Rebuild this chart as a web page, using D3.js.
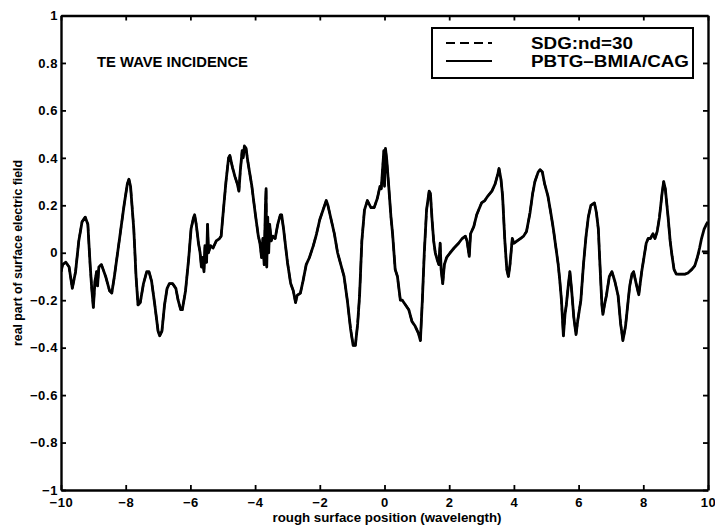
<!DOCTYPE html>
<html>
<head>
<meta charset="utf-8">
<script src="https://cdn.jsdelivr.net/npm/d3@7"></script>
<style>
  html, body { margin: 0; padding: 0; background: #fff; }
  svg { display: block; }
  text { font-family: "Liberation Sans", Arial, Helvetica, sans-serif; fill: #000; }
</style>
</head>
<body>
<svg id="chart" width="715" height="527"></svg>
<script>
// Surface position along the rough surface (wavelengths)
const positions = [
  -10.0, -9.95, -9.85, -9.75, -9.65, -9.55, -9.45, -9.35, -9.25, -9.17,
  -9.1, -9.05, -9.0, -8.95, -8.9, -8.87, -8.83, -8.75, -8.62, -8.5,
  -8.43, -8.35, -8.2, -8.05, -7.95, -7.9, -7.85, -7.75, -7.68, -7.62,
  -7.55, -7.45, -7.35, -7.28, -7.2, -7.1, -7.0, -6.95, -6.88, -6.8,
  -6.72, -6.65, -6.55, -6.45, -6.38, -6.3, -6.25, -6.15, -6.05, -5.98,
  -5.9, -5.87, -5.82, -5.75, -5.7, -5.66, -5.62, -5.58, -5.55, -5.5,
  -5.47, -5.44, -5.38, -5.3, -5.2, -5.1, -5.05, -4.98, -4.9, -4.82,
  -4.78, -4.7, -4.62, -4.55, -4.5, -4.46, -4.4, -4.37, -4.33, -4.28,
  -4.22, -4.1, -4.0, -3.9, -3.85, -3.8, -3.76, -3.72, -3.68, -3.66,
  -3.64, -3.61, -3.58, -3.55, -3.5, -3.45, -3.38, -3.3, -3.22, -3.18,
  -3.12, -3.0, -2.9, -2.82, -2.75, -2.7, -2.6, -2.52, -2.42, -2.32,
  -2.2, -2.1, -2.0, -1.9, -1.8, -1.75, -1.65, -1.55, -1.45, -1.35,
  -1.25, -1.15, -1.05, -0.97, -0.9, -0.83, -0.77, -0.7, -0.62, -0.53,
  -0.42, -0.32, -0.22, -0.14, -0.1, -0.05, -0.02, 0.0, 0.03, 0.07,
  0.12, 0.2, 0.25, 0.33, 0.4, 0.49, 0.55, 0.65, 0.75, 0.85,
  0.95, 1.05, 1.11, 1.17, 1.23, 1.3, 1.38, 1.42, 1.47, 1.52,
  1.57, 1.63, 1.68, 1.72, 1.75, 1.8, 1.85, 1.92, 2.03, 2.15,
  2.29, 2.4, 2.5, 2.55, 2.62, 2.66, 2.76, 2.85, 2.91, 3.0,
  3.1, 3.2, 3.32, 3.42, 3.5, 3.54, 3.6, 3.65, 3.72, 3.78,
  3.83, 3.88, 3.95, 4.0, 4.1, 4.2, 4.3, 4.39, 4.5, 4.58,
  4.65, 4.75, 4.81, 4.88, 4.95, 5.05, 5.15, 5.22, 5.3, 5.37,
  5.42, 5.47, 5.53, 5.58, 5.62, 5.68, 5.73, 5.78, 5.85, 5.92,
  5.98, 6.07, 6.15, 6.23, 6.3, 6.38, 6.49, 6.55, 6.61, 6.66,
  6.72, 6.75, 6.8, 6.86, 6.95, 7.03, 7.12, 7.22, 7.3, 7.37,
  7.45, 7.58, 7.65, 7.7, 7.78, 7.86, 7.95, 8.09, 8.15, 8.22,
  8.3, 8.36, 8.43, 8.5, 8.58, 8.63, 8.68, 8.76, 8.83, 8.89,
  8.95, 9.02, 9.15, 9.3, 9.38, 9.5, 9.59, 9.67, 9.74, 9.8,
  9.88, 9.95, 10.0
];

// Real part of the surface electric field, PBTG-BMIA/CAG solution
const pbtgField = [
  -0.08, -0.05, -0.04, -0.06, -0.15, -0.08, 0.05, 0.13, 0.15, 0.12,
  -0.05, -0.15, -0.23, -0.12, -0.08, -0.14, -0.06, -0.05, -0.1, -0.16,
  -0.17, -0.1, 0.05, 0.2, 0.29, 0.31, 0.28, 0.1, -0.1, -0.22,
  -0.21, -0.13, -0.08, -0.08, -0.12, -0.22, -0.33, -0.35, -0.33, -0.22,
  -0.15, -0.13, -0.13, -0.15, -0.2, -0.24, -0.24, -0.16, -0.02, 0.1,
  0.15, 0.16, 0.12, 0.04, 0.0, -0.06, -0.02, -0.08, 0.03, -0.04,
  0.12, 0.0, 0.03, 0.02, 0.05, 0.06, 0.07, 0.18, 0.3, 0.4,
  0.41, 0.36, 0.32, 0.29, 0.26, 0.34, 0.43, 0.4, 0.45, 0.44,
  0.38, 0.28, 0.17, 0.07, 0.04, -0.02, 0.06, -0.05, 0.2, 0.27,
  -0.06, 0.15, 0.0, 0.12, 0.05, 0.07, 0.06, 0.12, 0.16, 0.16,
  0.1, -0.04, -0.13, -0.16, -0.21, -0.18, -0.17, -0.12, -0.05, -0.02,
  0.03, 0.08, 0.14, 0.18, 0.22, 0.2, 0.14, 0.08, 0.0, -0.05,
  -0.1, -0.2, -0.32, -0.39, -0.39, -0.3, -0.18, 0.05, 0.18, 0.22,
  0.19, 0.19, 0.23, 0.28, 0.27, 0.37, 0.43, 0.28, 0.44, 0.39,
  0.3, 0.15, 0.08, -0.07, -0.1, -0.2, -0.2, -0.22, -0.24, -0.29,
  -0.31, -0.34, -0.37, -0.2, 0.0, 0.18, 0.26, 0.25, 0.14, 0.05,
  0.0, -0.03, -0.05, 0.04, -0.07, -0.13, -0.05, -0.02, 0.0, 0.02,
  0.04, 0.06, 0.07, 0.05, -0.015, 0.08, 0.11, 0.16, 0.18, 0.21,
  0.22, 0.24, 0.26, 0.29, 0.33, 0.355, 0.31, 0.24, 0.05, -0.07,
  -0.1, -0.05, 0.06, 0.04, 0.05, 0.06, 0.07, 0.09, 0.17, 0.25,
  0.3, 0.34, 0.35, 0.34, 0.29, 0.24, 0.16, 0.1, 0.02, -0.05,
  -0.12, -0.2, -0.35, -0.26, -0.22, -0.14, -0.08, -0.15, -0.27, -0.345,
  -0.28, -0.2, -0.05, 0.07, 0.15, 0.2, 0.21, 0.17, 0.1, -0.05,
  -0.22, -0.26, -0.22, -0.18, -0.1, -0.08, -0.12, -0.18, -0.3, -0.37,
  -0.31, -0.14, -0.09, -0.08, -0.13, -0.177, -0.08, 0.04, 0.06, 0.06,
  0.08, 0.06, 0.09, 0.15, 0.25, 0.3, 0.27, 0.16, 0.05, -0.015,
  -0.07, -0.09, -0.09, -0.09, -0.085, -0.07, -0.055, -0.02, 0.02, 0.06,
  0.1, 0.12, 0.13
];

// SDG (nd=30) follows the PBTG curve and only separates near the right edge
const sdgSplitAt = 9.74;
const sdgTailPositions = [9.74, 9.85, 10.0];
const sdgTailField = [0.01, 0.005, 0.005];

const xTickValues = [-10, -8, -6, -4, -2, 0, 2, 4, 6, 8, 10];
const xTickLabels = ["\u221210", "\u22128", "\u22126", "\u22124", "\u22122", "0", "2", "4", "6", "8", "10"];
const yTickValues = [-1, -0.8, -0.6, -0.4, -0.2, 0, 0.2, 0.4, 0.6, 0.8, 1];
const yTickLabels = ["\u22121", "\u22120.8", "\u22120.6", "\u22120.4", "\u22120.2", "0", "0.2", "0.4", "0.6", "0.8", "1"];

const seriesNames = ["SDG:nd=30", "PBTG\u2013BMIA/CAG"];
const annotation = "TE WAVE INCIDENCE";
const xTitle = "rough surface position (wavelength)";
const yTitle = "real part of surface electric field";

// ---- layout ----
const plot = { left: 61, right: 708, top: 15.5, bottom: 490 };
const svg = d3.select("#chart");

const x = d3.scaleLinear().domain([-10, 10]).range([plot.left, plot.right]);
const y = d3.scaleLinear().domain([-1, 1]).range([plot.bottom, plot.top]);

const pbtg = positions.map((p, i) => ({ x: p, y: pbtgField[i] }));
const sdg = pbtg.filter(d => d.x < sdgSplitAt)
  .concat(sdgTailPositions.map((p, i) => ({ x: p, y: sdgTailField[i] })));

svg.append("defs").append("clipPath").attr("id", "plotClip")
  .append("rect")
  .attr("x", plot.left).attr("y", plot.top)
  .attr("width", plot.right - plot.left).attr("height", plot.bottom - plot.top);

const line = d3.line().x(d => x(d.x)).y(d => y(d.y));

const curves = svg.append("g").attr("clip-path", "url(#plotClip)");
curves.append("path").datum(pbtg)
  .attr("d", line)
  .attr("fill", "none").attr("stroke", "#000")
  .attr("stroke-width", 2.8).attr("stroke-linejoin", "round");
curves.append("path").datum(sdg)
  .attr("d", line)
  .attr("fill", "none").attr("stroke", "#000")
  .attr("stroke-width", 2.2).attr("stroke-dasharray", "9,4")
  .attr("stroke-linejoin", "round");

// ---- axes (inward ticks on all four sides, MATLAB box style) ----
const tickLen = 5;
const fmtX = v => xTickLabels[xTickValues.indexOf(v)];
const fmtY = v => yTickLabels[yTickValues.indexOf(v)];

function styleAxis(g) {
  g.selectAll("path.domain").attr("stroke", "#000").attr("stroke-width", 2.4);
  g.selectAll(".tick line").attr("stroke", "#000").attr("stroke-width", 1.8);
  g.selectAll(".tick text")
    .style("font-family", "'Liberation Sans', Arial, sans-serif")
    .style("font-weight", "bold").style("font-size", "13px")
    .style("letter-spacing", "0.6px").attr("fill", "#000");
}

svg.append("g")
  .attr("transform", `translate(0,${plot.bottom})`)
  .call(d3.axisBottom(x).tickValues(xTickValues).tickFormat(fmtX)
    .tickSizeInner(-tickLen).tickSizeOuter(0).tickPadding(8))
  .call(styleAxis);

svg.append("g")
  .attr("transform", `translate(${plot.left},0)`)
  .call(d3.axisLeft(y).tickValues(yTickValues).tickFormat(fmtY)
    .tickSizeInner(-tickLen).tickSizeOuter(0).tickPadding(3))
  .call(styleAxis);

svg.append("g")
  .attr("transform", `translate(0,${plot.top})`)
  .call(d3.axisTop(x).tickValues(xTickValues).tickFormat("")
    .tickSizeInner(-tickLen).tickSizeOuter(0))
  .call(styleAxis);

svg.append("g")
  .attr("transform", `translate(${plot.right},0)`)
  .call(d3.axisRight(y).tickValues(yTickValues).tickFormat("")
    .tickSizeInner(-tickLen).tickSizeOuter(0))
  .call(styleAxis);

// ---- axis titles ----
svg.append("text")
  .attr("x", 387).attr("y", 522)
  .attr("text-anchor", "middle")
  .attr("textLength", 229).attr("lengthAdjust", "spacingAndGlyphs")
  .style("font-weight", "bold").style("font-size", "12.5px")
  .text(xTitle);

svg.append("text")
  .attr("transform", "translate(22,253) rotate(-90)")
  .attr("text-anchor", "middle")
  .attr("textLength", 186).attr("lengthAdjust", "spacingAndGlyphs")
  .style("font-weight", "bold").style("font-size", "12px")
  .text(yTitle);

// ---- annotation ----
svg.append("text")
  .attr("x", 97).attr("y", 67)
  .attr("textLength", 151).attr("lengthAdjust", "spacingAndGlyphs")
  .style("font-weight", "bold").style("font-size", "14px")
  .text(annotation);

// ---- legend ----
const legend = svg.append("g");
legend.append("rect")
  .attr("x", 432).attr("y", 28).attr("width", 261).attr("height", 50)
  .attr("fill", "#fff").attr("stroke", "#000").attr("stroke-width", 2);

const legendRows = [
  { name: seriesNames[0], dash: "9,5", yy: 43, width: 102 },
  { name: seriesNames[1], dash: null, yy: 61, width: 158 }
];
legendRows.forEach(r => {
  legend.append("line")
    .attr("x1", 446).attr("x2", 492).attr("y1", r.yy).attr("y2", r.yy)
    .attr("stroke", "#000").attr("stroke-width", 2)
    .attr("stroke-dasharray", r.dash);
  legend.append("text")
    .attr("x", 531).attr("y", r.yy + 5.5)
    .attr("textLength", r.width).attr("lengthAdjust", "spacingAndGlyphs")
    .style("font-weight", "bold").style("font-size", "16px")
    .text(r.name);
});
</script>
</body>
</html>
